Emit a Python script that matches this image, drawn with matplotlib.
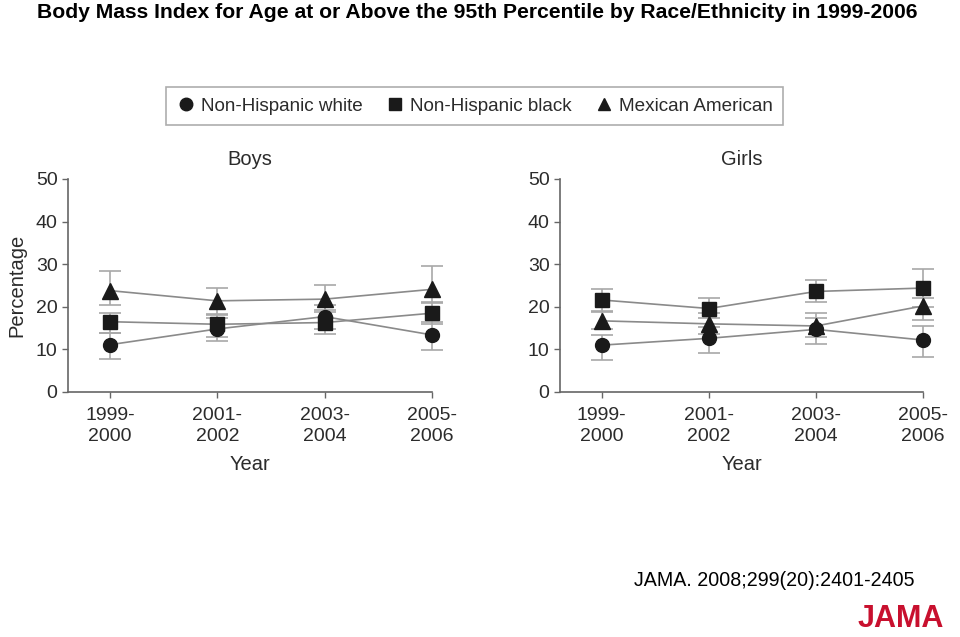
import matplotlib
matplotlib.use("Agg")
import matplotlib.pyplot as plt
from matplotlib.lines import Line2D

plt.rcParams['font.family'] = ['Liberation Sans', 'DejaVu Sans']

periods = ["1999-\n2000", "2001-\n2002", "2003-\n2004", "2005-\n2006"]
series_names = ["Non-Hispanic white", "Non-Hispanic black", "Mexican American"]
series_markers = ["o", "s", "^"]

# Boys: values, lower and upper error limits
boys_white = [11.1, 14.8, 17.7, 13.4]
boys_white_lo = [7.7, 12.0, 14.8, 9.9]
boys_white_hi = [13.8, 17.4, 20.4, 16.5]
boys_black = [16.5, 15.9, 16.3, 18.5]
boys_black_lo = [13.8, 13.0, 13.6, 16.0]
boys_black_hi = [18.6, 18.1, 19.2, 21.2]
boys_mex = [23.8, 21.4, 21.8, 24.1]
boys_mex_lo = [20.4, 18.3, 18.8, 20.9]
boys_mex_hi = [28.4, 24.5, 25.1, 29.6]

# Girls
girls_white = [11.0, 12.6, 14.7, 12.2]
girls_white_lo = [7.4, 9.1, 11.3, 8.3]
girls_white_hi = [13.3, 15.3, 17.4, 15.4]
girls_black = [21.6, 19.6, 23.6, 24.4]
girls_black_lo = [18.8, 17.3, 21.2, 20.0]
girls_black_hi = [24.2, 22.1, 26.4, 28.8]
girls_mex = [16.7, 16.0, 15.5, 20.2]
girls_mex_lo = [14.7, 13.5, 12.8, 16.9]
girls_mex_hi = [19.0, 18.5, 18.6, 22.1]

yticks = [0, 10, 20, 30, 40, 50]

fig = plt.figure(figsize=(9.6, 6.37), dpi=100)

text_col = "#2b2b2b"
spine_col = "#666666"
line_col = "#8a8a8a"
err_col = "#a8a8a8"

ax_b = fig.add_axes([68/960, 1-392/637, (432-68)/960, (392-179)/637])
ax_g = fig.add_axes([560/960, 1-392/637, (923-560)/960, (392-179)/637])

def draw(ax, data, title, show_ylabel):
    x = list(range(len(periods)))
    for (vals, lo, hi), m in zip(data, series_markers):
        yerr = [[v - l for v, l in zip(vals, lo)], [h - v for v, h in zip(vals, hi)]]
        eb = ax.errorbar(x, vals, yerr=yerr, fmt='none', ecolor=err_col, elinewidth=1.2,
                         capsize=8, capthick=1.2, zorder=1)
        for art in eb.lines[1] + eb.lines[2]:
            art.set_clip_on(False)
        ax.plot(x, vals, color=line_col, lw=1.2, zorder=2, clip_on=False)
        ms = 10 if m == "o" else (10 if m == "s" else 11)
        ax.plot(x, vals, linestyle='none', marker=m, ms=ms, color="#1a1a1a",
                markeredgecolor="#1a1a1a", zorder=3, clip_on=False)
    ax.set_xlim(-0.39, 3)
    ax.set_ylim(0, 50)
    ax.set_xticks(x)
    ax.set_xticklabels(periods, fontsize=14, color=text_col, linespacing=1.3)
    ax.set_yticks(yticks)
    ax.set_yticklabels([str(t) for t in yticks], fontsize=14, color=text_col)
    for s in ["top", "right"]:
        ax.spines[s].set_visible(False)
    for s in ["left", "bottom"]:
        ax.spines[s].set_color(spine_col)
        ax.spines[s].set_linewidth(1.2)
    ax.tick_params(axis='both', colors=spine_col, length=4, width=1, labelcolor=text_col)
    ax.tick_params(axis='x', pad=7)
    ax.set_xlabel("Year", fontsize=14.5, color=text_col, labelpad=7)
    ax.set_title(title, fontsize=14.5, color=text_col, pad=10)
    if show_ylabel:
        ax.set_ylabel("Percentage", fontsize=14.5, color=text_col, labelpad=7)

draw(ax_b, [(boys_white, boys_white_lo, boys_white_hi),
            (boys_black, boys_black_lo, boys_black_hi),
            (boys_mex, boys_mex_lo, boys_mex_hi)], "Boys", True)
draw(ax_g, [(girls_white, girls_white_lo, girls_white_hi),
            (girls_black, girls_black_lo, girls_black_hi),
            (girls_mex, girls_mex_lo, girls_mex_hi)], "Girls", False)

handles = [Line2D([], [], linestyle='none', marker=m, color="#1a1a1a", ms=9)
           for m in series_markers]
leg = fig.legend(handles, series_names, loc='center',
                 bbox_to_anchor=((166+783)/2/960, 1-106/637), ncol=3,
                 fontsize=13.6, frameon=True, fancybox=False, handletextpad=0.3,
                 columnspacing=1.2, borderpad=0.55, handlelength=1.0)
leg.get_frame().set_edgecolor("#999999")
leg.get_frame().set_linewidth(1.2)
for t in leg.get_texts():
    t.set_color(text_col)

fig.text(37/960, 1-12/637, "Body Mass Index for Age at or Above the 95th Percentile by Race/Ethnicity in 1999-2006",
         fontsize=15.2, fontweight='bold', ha='left', va='center', color='black')
fig.text(634/960, 1-580/637, "JAMA. 2008;299(20):2401-2405", fontsize=14.1,
         ha='left', va='center', color='black')
fig.text(901/960, 1-619/637, "JAMA", fontsize=22, fontweight='bold', ha='center',
         va='center', color='#c8102e')

fig.savefig("out.png", dpi=100)
